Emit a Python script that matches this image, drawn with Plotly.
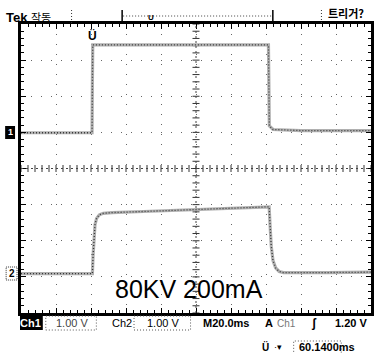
import plotly.graph_objects as go

# ---- data ----
# time in ms (20 ms/div, 10 div), vertical position in screen divisions (0..8)
ch1_time = [0, 40.6, 40.8, 41.0, 141.4, 141.6, 141.9, 144, 160, 200]
ch1_div = [4.99, 4.99, 6.4, 7.42, 7.42, 6.0, 5.18, 5.08, 5.05, 5.05]

ch2_time = [0, 40.8, 41.2, 41.7, 42.3, 43.2, 44.8, 47, 52, 70, 100, 130, 141.8,
            142.3, 143.0, 144.0, 145.5, 147.5, 150, 175, 200]
ch2_div = [1.09, 1.09, 1.6, 2.1, 2.45, 2.62, 2.72, 2.76, 2.78, 2.81, 2.86, 2.91, 2.94,
           2.45, 1.85, 1.45, 1.25, 1.15, 1.12, 1.12, 1.13]

caption = "80KV 200mA"
ch1_scale = "1.00 V"
ch2_scale = "1.00 V"
timebase = "M 20.0ms"
trig_level = "1.20 V"
trig_pos = "60.1400ms"

# ---- figure ----
W, H = 376, 353
L, R, T, B = 21, 2, 24, 40
PW, PH = W - L - R, H - T - B


def px(x):
    return (x - L) / PW


def py(y):
    return (H - B - y) / PH


fig = go.Figure()

# center cross ticks (graticule decoration)
cx_ticks = [i * 4 for i in range(51)]
cy_ticks = [i * 0.2 for i in range(41)]
fig.add_trace(go.Scatter(x=cx_ticks, y=[4] * len(cx_ticks), mode="markers",
                         marker=dict(symbol="line-ns", size=5, line=dict(width=1, color="#333")),
                         hoverinfo="skip", showlegend=False))
fig.add_trace(go.Scatter(x=[100] * len(cy_ticks), y=cy_ticks, mode="markers",
                         marker=dict(symbol="line-ew", size=5, line=dict(width=1, color="#333")),
                         hoverinfo="skip", showlegend=False))

for t, v in ((ch1_time, ch1_div), (ch2_time, ch2_div)):
    fig.add_trace(go.Scatter(x=t, y=v, mode="lines",
                             line=dict(color="#b0b0b0", width=3.2),
                             hoverinfo="skip", showlegend=False))
    fig.add_trace(go.Scatter(x=t, y=v, mode="lines",
                             line=dict(color="#3a3a3a", width=1.3, dash="1px,2px"),
                             hoverinfo="skip", showlegend=False))

shapes = [
    dict(type="line", xref="x", yref="y", x0=0, x1=200, y0=4, y1=4,
         line=dict(color="#444", width=1, dash="2px,3px")),
    dict(type="line", xref="x", yref="y", x0=100, x1=100, y0=0, y1=8,
         line=dict(color="#444", width=1, dash="2px,3px")),
    # Ch1 inverse label
    dict(type="rect", xref="paper", yref="paper", x0=px(20), x1=px(43), y0=py(330), y1=py(316),
         fillcolor="black", line=dict(width=0)),
    # dotted boxes
    dict(type="rect", xref="paper", yref="paper", x0=px(46), x1=px(97), y0=py(330), y1=py(316),
         line=dict(color="#555", width=1, dash="1px,2px")),
    dict(type="rect", xref="paper", yref="paper", x0=px(135), x1=px(192), y0=py(330), y1=py(316),
         line=dict(color="#555", width=1, dash="1px,2px")),
    dict(type="rect", xref="paper", yref="paper", x0=px(296), x1=px(344), y0=py(356), y1=py(341),
         line=dict(color="#555", width=1, dash="1px,2px")),
    # record window bracket at top
    dict(type="line", xref="paper", yref="paper", x0=px(124), x1=px(274), y0=py(16), y1=py(16),
         line=dict(color="#444", width=1, dash="1px,2px")),
    dict(type="line", xref="paper", yref="paper", x0=px(123), x1=px(123), y0=py(10), y1=py(22),
         line=dict(color="black", width=1.5)),
    dict(type="line", xref="paper", yref="paper", x0=px(275), x1=px(275), y0=py(10), y1=py(22),
         line=dict(color="black", width=1.5)),
    dict(type="line", xref="paper", yref="paper", x0=px(72), x1=px(72), y0=py(10), y1=py(23),
         line=dict(color="#333", width=1, dash="1px,2px")),
    dict(type="line", xref="paper", yref="paper", x0=px(324), x1=px(324), y0=py(10), y1=py(23),
         line=dict(color="#333", width=1, dash="1px,2px")),
    # Ch1 ground marker
    dict(type="rect", xref="paper", yref="paper", x0=px(5), x1=px(15), y0=py(139), y1=py(126),
         fillcolor="black", line=dict(width=0)),
    # Ch2 ground marker box
    dict(type="rect", xref="paper", yref="paper", x0=px(6), x1=px(17), y0=py(280), y1=py(267),
         line=dict(color="#333", width=1, dash="1px,1px")),
]

ann = []


def text(x, y, s, size=11, color="black", family="Liberation Sans", bold=False,
         xanchor="center", bg=None):
    ann.append(dict(xref="paper", yref="paper", x=px(x), y=py(y), text=("<b>%s</b>" % s) if bold else s,
                    showarrow=False, xanchor=xanchor, yanchor="middle",
                    font=dict(size=size, color=color, family=family),
                    bgcolor=bg))


text(4, 17, "Tek", 13, bold=True, xanchor="left")
text(29, 17, "작동", 11, family="Noto Sans CJK KR", xanchor="left")
text(329, 13, "트리거?", 11, family="Noto Sans CJK KR", bold=True, xanchor="left")
text(152, 17, "U", 8, bold=True)
text(93, 36, "Ü", 12, bold=True)
text(190, 289, caption, 25)
text(31, 323, "Ch1", 11, color="white", bold=True)
text(72, 323, ch1_scale, 11, color="#444")
text(123, 323, "Ch2", 11)
text(164, 323, ch2_scale, 11)
text(203, 323, timebase.replace(" ", ""), 11, bold=True, xanchor="left")
text(271, 323, "A", 11, bold=True)
text(289, 323, "Ch1", 10, color="#777")
text(317, 323, "ʃ", 12, bold=True)
text(372, 323, trig_level, 11, bold=True, xanchor="right")
text(268, 347, "Ü", 10, bold=True)
text(280, 347, "·▾", 9)
text(299, 347, trig_pos, 11, bold=True, xanchor="left")
text(10, 132, "1", 9, color="white", bold=True)
text(12, 273, "2", 10, bold=True)

fig.update_layout(
    width=W, height=H,
    margin=dict(l=L, r=R, t=T, b=B),
    paper_bgcolor="white", plot_bgcolor="white",
    shapes=shapes, annotations=ann,
    xaxis=dict(range=[0, 200], dtick=20, showticklabels=False, showgrid=True,
               gridcolor="#666", gridwidth=1, griddash="1px,9px",
               ticks="inside", ticklen=5, tickcolor="black",
               minor=dict(dtick=4, ticks="inside", ticklen=3, tickcolor="black", showgrid=False),
               showline=True, linecolor="black", linewidth=2.5, mirror="allticks",
               zeroline=False, fixedrange=True),
    yaxis=dict(range=[0, 8], dtick=1, showticklabels=False, showgrid=True,
               gridcolor="#666", gridwidth=1, griddash="1px,9px",
               ticks="inside", ticklen=5, tickcolor="black",
               minor=dict(dtick=0.2, ticks="inside", ticklen=3, tickcolor="black", showgrid=False),
               showline=True, linecolor="black", linewidth=2.5, mirror="allticks",
               zeroline=False, fixedrange=True),
)

fig.write_html("out.html", config={"displayModeBar": False},
               post_script="document.body.style.margin='0';document.body.style.overflow='hidden';")
